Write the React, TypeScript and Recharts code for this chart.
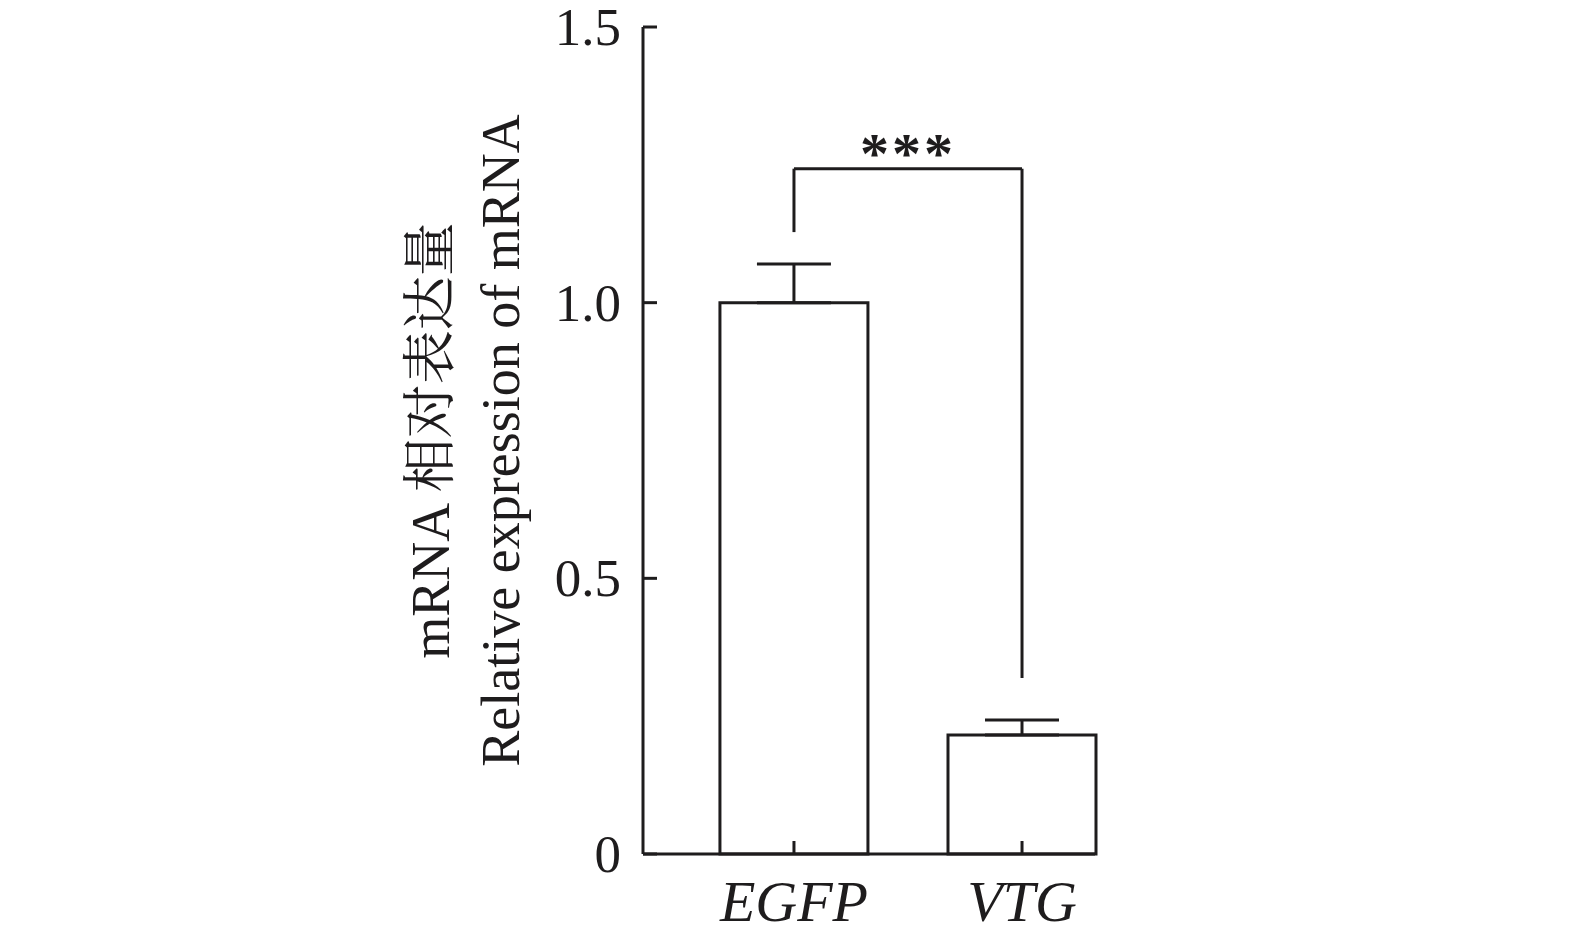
import React from "react";
import {
  BarChart,
  Bar,
  XAxis,
  YAxis,
  ErrorBar,
  ReferenceLine,
} from "recharts";

const categories = ["EGFP", "VTG"];
const expression = [1.0, 0.216];
const errorUp = [0.07, 0.027];
const yTicks = [0, 0.5, 1.0, 1.5];
const yTickLabels = ["0", "0.5", "1.0", "1.5"];
const sigLabel = "***";
// bracket heights (in y units) over EGFP and VTG
const bracketTop = 1.243;
const bracketLeftEnd = 1.128;
const bracketRightEnd = 0.319;

const data = categories.map((name, i) => ({
  x: i,
  name,
  value: expression[i],
  err: [0, errorUp[i]],
}));

const INK = "#1e1c1d";
const SERIF = "'Liberation Serif', 'Times New Roman', 'Noto Serif CJK SC', 'Noto Sans CJK SC', serif";

const XTick = (props: any) => {
  const { x, y, payload } = props;
  return (
    <g>
      <line x1={x} y1={y} x2={x} y2={y - 13} stroke={INK} strokeWidth={3} />
      <text
        x={x}
        y={y + 67}
        textAnchor="middle"
        fontFamily={SERIF}
        fontStyle="italic"
        fontSize={58}
        fill={INK}
      >
        {categories[payload.value]}
      </text>
    </g>
  );
};

const YTick = (props: any) => {
  const { x, y, payload, index } = props;
  return (
    <g>
      <line x1={x} y1={y} x2={x + 14} y2={y} stroke={INK} strokeWidth={3} />
      <text
        x={x - 22}
        y={y}
        textAnchor="end"
        dominantBaseline="central"
        fontFamily={SERIF}
        fontSize={53}
        fill={INK}
      >
        {yTickLabels[index] ?? payload.value}
      </text>
    </g>
  );
};

const YTitle = (props: any) => {
  const { viewBox } = props;
  const axisX = viewBox.x + viewBox.width;
  const cy = viewBox.y + viewBox.height / 2;
  const x1 = axisX - 194;
  const x2 = axisX - 124;
  return (
    <g fontFamily={SERIF} fontSize={54} fill={INK}>
      <text x={x1} y={cy} textAnchor="middle" transform={`rotate(-90 ${x1} ${cy})`}>
        mRNA 相对表达量
      </text>
      <text x={x2} y={cy} textAnchor="middle" transform={`rotate(-90 ${x2} ${cy})`}>
        Relative expression of mRNA
      </text>
    </g>
  );
};

const Stars = (props: any) => {
  const { viewBox } = props;
  const cx = viewBox.x + viewBox.width / 2;
  return (
    <text
      x={cx}
      y={viewBox.y + 4}
      textAnchor="middle"
      fontFamily={SERIF}
      fontSize={58}
      fontWeight="bold"
      letterSpacing={3}
      fill={INK}
    >
      {sigLabel}
    </text>
  );
};

export default function App() {
  return (
    <div style={{ position: "absolute", left: 0, top: 0, background: "#fff" }}>
      <BarChart
        width={1575}
        height={933}
        data={data}
        margin={{ top: 27, right: 480, bottom: 0, left: 543 }}
      >
        <XAxis
          type="number"
          dataKey="x"
          domain={[-0.662, 1.32]}
          ticks={[0, 1]}
          height={79}
          tickSize={0}
          tickMargin={0}
          tickLine={false}
          axisLine={{ stroke: INK, strokeWidth: 3 }}
          tick={<XTick />}
          interval={0}
        />
        <YAxis
          type="number"
          domain={[0, 1.5]}
          ticks={yTicks}
          width={100}
          tickSize={0}
          tickMargin={0}
          tickLine={false}
          axisLine={{ stroke: INK, strokeWidth: 3 }}
          tick={<YTick />}
          interval={0}
          label={<YTitle />}
        />
        <Bar
          dataKey="value"
          barSize={148}
          fill="#ffffff"
          stroke={INK}
          strokeWidth={3}
          isAnimationActive={false}
        >
          <ErrorBar dataKey="err" width={37} stroke={INK} strokeWidth={3} direction="y" />
        </Bar>
        <ReferenceLine
          segment={[{ x: 0, y: bracketLeftEnd }, { x: 0, y: bracketTop }]}
          stroke={INK}
          strokeWidth={3}
          ifOverflow="visible"
        />
        <ReferenceLine
          segment={[{ x: 0, y: bracketTop }, { x: 1, y: bracketTop }]}
          stroke={INK}
          strokeWidth={3}
          ifOverflow="visible"
          label={<Stars />}
        />
        <ReferenceLine
          segment={[{ x: 1, y: bracketTop }, { x: 1, y: bracketRightEnd }]}
          stroke={INK}
          strokeWidth={3}
          ifOverflow="visible"
        />
      </BarChart>
    </div>
  );
}
